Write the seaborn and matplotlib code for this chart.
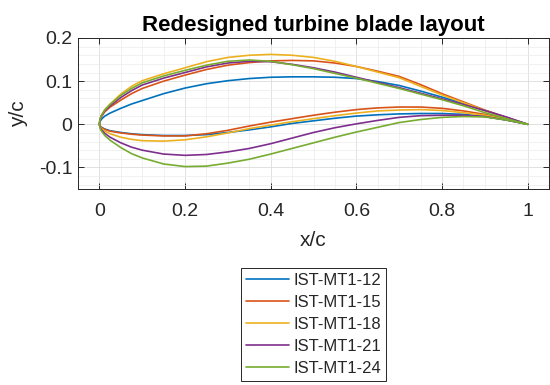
import numpy as np
import pandas as pd
import matplotlib
matplotlib.use("Agg")
import matplotlib.pyplot as plt
import seaborn as sns
from matplotlib.ticker import MultipleLocator

# ---- data ----
profiles = ["IST-MT1-12", "IST-MT1-15", "IST-MT1-18", "IST-MT1-21", "IST-MT1-24"]
colors = ["#0072BD", "#D95319", "#EDB120", "#7E2F8E", "#77AC30"]

x_st = [0, 0.001, 0.0025, 0.005, 0.0125, 0.025, 0.05, 0.075, 0.1, 0.15, 0.2, 0.25, 0.3, 0.35, 0.4,
        0.45, 0.5, 0.55, 0.6, 0.65, 0.7, 0.75, 0.8, 0.85, 0.9, 0.95, 1.0]

upper_12 = [0, 0.005, 0.008, 0.012, 0.019, 0.026, 0.037, 0.047, 0.055, 0.071, 0.084, 0.094, 0.101, 0.106, 0.109,
            0.110, 0.110, 0.109, 0.106, 0.099, 0.090, 0.077, 0.063, 0.048, 0.032, 0.016, 0]
lower_12 = [0, -0.003, -0.005, -0.007, -0.011, -0.015, -0.019, -0.022, -0.024, -0.026, -0.026, -0.024, -0.019, -0.013, -0.006,
            0.002, 0.008, 0.014, 0.019, 0.022, 0.024, 0.025, 0.025, 0.023, 0.018, 0.010, 0]

upper_15 = [0, 0.008, 0.013, 0.018, 0.029, 0.040, 0.056, 0.071, 0.083, 0.100, 0.114, 0.127, 0.137, 0.143, 0.147,
            0.148, 0.147, 0.142, 0.134, 0.123, 0.111, 0.092, 0.071, 0.052, 0.033, 0.016, 0]
lower_15 = [0, -0.003, -0.005, -0.008, -0.012, -0.016, -0.020, -0.023, -0.025, -0.027, -0.027, -0.022, -0.014, -0.004, 0.005,
            0.013, 0.021, 0.028, 0.034, 0.038, 0.040, 0.040, 0.037, 0.031, 0.023, 0.012, 0]

upper_18 = [0, 0.009, 0.015, 0.021, 0.034, 0.047, 0.070, 0.088, 0.101, 0.117, 0.131, 0.145, 0.155, 0.160, 0.162,
            0.160, 0.155, 0.146, 0.134, 0.121, 0.108, 0.088, 0.068, 0.050, 0.032, 0.015, 0]
lower_18 = [0, -0.004, -0.007, -0.010, -0.016, -0.022, -0.030, -0.035, -0.038, -0.039, -0.036, -0.029, -0.020, -0.010, -0.002,
            0.006, 0.013, 0.020, 0.026, 0.031, 0.033, 0.034, 0.032, 0.027, 0.021, 0.011, 0]

upper_21 = [0, 0.009, 0.014, 0.020, 0.031, 0.043, 0.062, 0.078, 0.091, 0.107, 0.120, 0.133, 0.142, 0.146, 0.145,
            0.139, 0.131, 0.121, 0.109, 0.097, 0.085, 0.072, 0.059, 0.046, 0.032, 0.017, 0]
lower_21 = [0, -0.006, -0.009, -0.013, -0.021, -0.030, -0.043, -0.053, -0.060, -0.069, -0.072, -0.070, -0.064, -0.056, -0.045,
            -0.032, -0.019, -0.008, 0.001, 0.009, 0.016, 0.020, 0.021, 0.021, 0.018, 0.010, 0]

upper_24 = [0, 0.009, 0.015, 0.021, 0.033, 0.046, 0.067, 0.083, 0.096, 0.112, 0.125, 0.137, 0.146, 0.149, 0.146,
            0.138, 0.129, 0.118, 0.107, 0.095, 0.083, 0.070, 0.057, 0.043, 0.027, 0.013, 0]
lower_24 = [0, -0.007, -0.011, -0.016, -0.026, -0.037, -0.054, -0.068, -0.078, -0.092, -0.098, -0.097, -0.090, -0.081, -0.069,
            -0.056, -0.043, -0.030, -0.018, -0.007, 0.004, 0.011, 0.016, 0.018, 0.017, 0.010, 0]

uppers = [upper_12, upper_15, upper_18, upper_21, upper_24]
lowers = [lower_12, lower_15, lower_18, lower_21, lower_24]

x_ticks = [0, 0.2, 0.4, 0.6, 0.8, 1]
x_tick_labels = ["0", "0.2", "0.4", "0.6", "0.8", "1"]
y_ticks = [-0.1, 0, 0.1, 0.2]
y_tick_labels = ["-0.1", "0", "0.1", "0.2"]

# ---- long table: contour runs TE->LE along upper side, then LE->TE along lower ----
rows = []
for name, up, lo in zip(profiles, uppers, lowers):
    xs = list(reversed(x_st)) + x_st[1:]
    ys = list(reversed(up)) + lo[1:]
    for i, (xx, yy) in enumerate(zip(xs, ys)):
        rows.append({"profile": name, "order": i, "x": xx, "y": yy})
df = pd.DataFrame(rows)

sns.set_theme(style="white")
plt.rcParams["font.family"] = ["Liberation Sans", "DejaVu Sans"]

fig = plt.figure(figsize=(5.5, 3.85), dpi=100)
ax = fig.add_axes([78 / 550, 1 - 189 / 385, (549 - 78) / 550, (189 - 38) / 385])

sns.lineplot(data=df, x="x", y="y", hue="profile", hue_order=profiles,
             palette=colors, sort=False, estimator=None, linewidth=1.2, ax=ax)

ax.set_xlim(-0.05, 1.05)
ax.set_ylim(-0.15, 0.2)
ax.set_xticks(x_ticks)
ax.set_xticklabels(x_tick_labels)
ax.set_yticks(y_ticks)
ax.set_yticklabels(y_tick_labels)
ax.xaxis.set_minor_locator(MultipleLocator(0.05))
ax.yaxis.set_minor_locator(MultipleLocator(0.02))

ax.grid(True, which="major", color="#dcdcdc", linewidth=0.6)
ax.grid(True, which="minor", color="#ececec", linewidth=0.5)
ax.set_axisbelow(True)

for s in ax.spines.values():
    s.set_color("#262626")
    s.set_linewidth(0.7)
ax.tick_params(which="major", direction="in", length=4, width=0.7, color="#262626",
               top=True, right=True, bottom=True, left=True, labelsize=14, labelcolor="#262626")
ax.tick_params(axis="x", which="major", pad=10)
ax.tick_params(axis="y", which="major", pad=4)
ax.tick_params(which="minor", length=0, top=False, right=False)

ax.set_xlabel("x/c", fontsize=15, color="#262626", labelpad=8)
ax.set_ylabel("y/c", fontsize=15, color="#262626", labelpad=8)
ax.set_title("Redesigned turbine blade layout", fontsize=16, fontweight="bold", color="black", pad=5)

ax.get_legend().remove()
handles, labels = ax.get_legend_handles_labels()
leg = fig.legend(handles, labels, loc="upper left", bbox_to_anchor=(241 / 550, 1 - 268 / 385),
                 fontsize=12, frameon=True, fancybox=False, framealpha=1, edgecolor="#262626",
                 handlelength=2.6, handletextpad=0.25, labelspacing=0.42, borderpad=0.3,
                 borderaxespad=0)
leg.get_frame().set_linewidth(0.7)

fig.savefig("out.png", dpi=100)
